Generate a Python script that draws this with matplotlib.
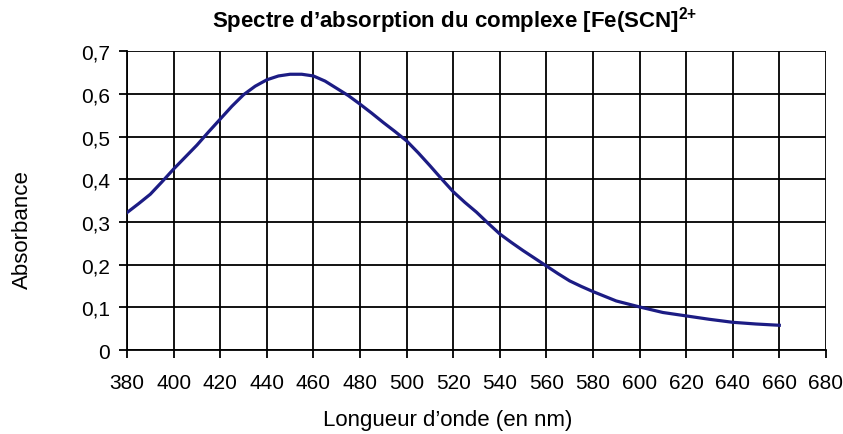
import matplotlib.pyplot as plt

plt.rcParams['font.family'] = ['Liberation Sans', 'DejaVu Sans']
plt.rcParams['mathtext.fontset'] = 'custom'
plt.rcParams['mathtext.rm'] = 'Liberation Sans'
plt.rcParams['mathtext.bf'] = 'Liberation Sans:bold'

# wavelengths (nm) and absorbance
wavelength = [380, 385, 390, 395, 400, 405, 410, 415, 420, 425, 430, 435, 440, 445,
              450, 455, 460, 465, 470, 475, 480, 485, 490, 495, 500, 505, 510, 515,
              520, 525, 530, 535, 540, 545, 550, 555, 560, 565, 570, 575, 580, 590,
              600, 610, 620, 630, 640, 650, 660]
absorbance = [0.322, 0.343, 0.365, 0.394, 0.424, 0.452, 0.480, 0.511, 0.541, 0.571,
              0.598, 0.618, 0.633, 0.642, 0.646, 0.646, 0.642, 0.630, 0.613, 0.596,
              0.576, 0.555, 0.533, 0.512, 0.490, 0.462, 0.432, 0.401, 0.371, 0.346,
              0.323, 0.297, 0.272, 0.252, 0.233, 0.215, 0.197, 0.179, 0.162, 0.149,
              0.137, 0.115, 0.101, 0.088, 0.080, 0.072, 0.065, 0.061, 0.058]

xticks = list(range(380, 681, 20))
yticks = [0, 0.1, 0.2, 0.3, 0.4, 0.5, 0.6, 0.7]
ylabels = ["0", "0,1", "0,2", "0,3", "0,4", "0,5", "0,6", "0,7"]

fig = plt.figure(figsize=(8.43, 4.35), dpi=100)
ax = fig.add_axes([0.1507, 0.193, 0.829, 0.687])

ax.plot(wavelength, absorbance, color='#1c1c84', linewidth=2.3, zorder=3)

ax.set_xlim(380, 680)
ax.set_ylim(0, 0.7)
ax.set_xticks(xticks)
ax.set_yticks(yticks)
ax.set_yticklabels(ylabels)
ax.grid(True, color='black', linewidth=1.3)
ax.tick_params(direction='out', length=5.5, width=1.3, labelsize=15)
ax.tick_params(axis='x', pad=11)
ax.tick_params(axis='y', pad=7)

for s in ['top', 'right']:
    ax.spines[s].set_visible(False)
for s in ['left', 'bottom']:
    ax.spines[s].set_linewidth(1.3)

ax.set_xlabel("Longueur d’onde (en nm)", fontsize=16, va='center')
ax.xaxis.set_label_coords(0.459, -0.234)
ax.set_ylabel("Absorbance", fontsize=16, va='center')
ax.yaxis.set_label_coords(-0.150, 0.405)

fig.text(0.539, 0.952, r"Spectre d’absorption du complexe [Fe(SCN]$^{\mathbf{2{+}}}$",
         ha='center', va='center', fontsize=16, fontweight='bold')

fig.savefig("out.png", dpi=100)
